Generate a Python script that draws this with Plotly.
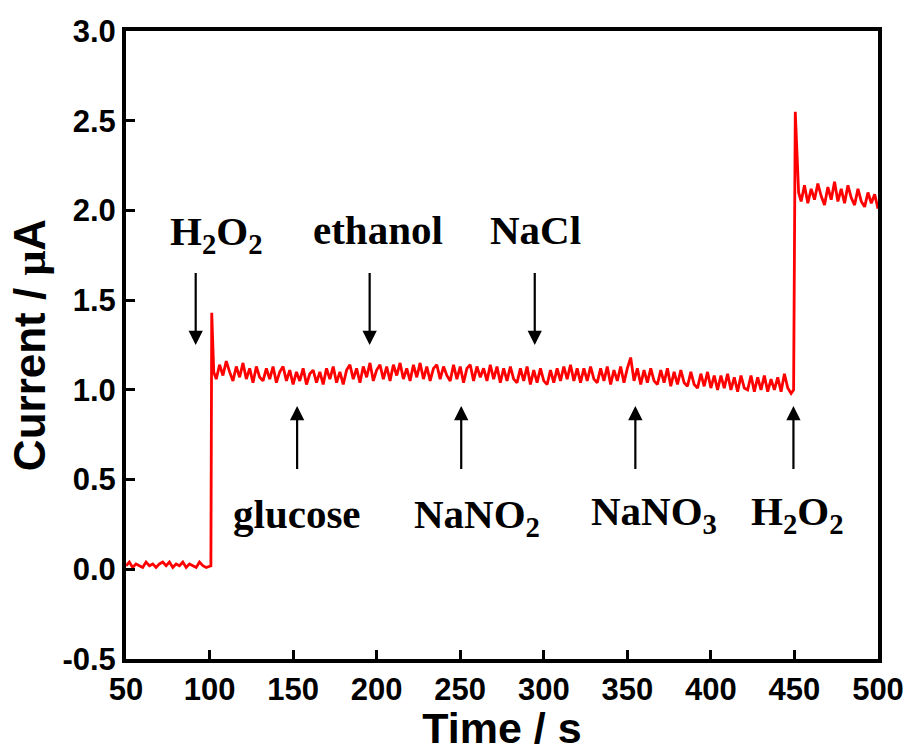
import plotly.graph_objects as go

# ---- data ----
t_base = list(range(50, 101, 2))
i_base = [0.02,0.04,0.01,0.03,0.02,0.01,0.04,0.02,0.03,0.01,0.03,0.04,0.02,0.04,0.01,0.03,0.02,0.04,0.01,0.03,0.02,0.01,0.04,0.02,0.01,0.02]

t_step1 = [100.8, 101.3, 102.5]
i_step1 = [0.02, 1.43, 1.10]

t_mid = list(range(104, 449, 2))
i_mid = [
    1.06,1.14,1.08,1.16,1.10,1.05,1.13,1.07,1.15,1.06,
    1.12,1.04,1.13,1.07,1.05,1.12,1.06,1.13,1.04,1.10,
    1.13,1.05,1.11,1.03,1.10,1.05,1.12,1.03,1.09,1.11,
    1.04,1.10,1.03,1.12,1.06,1.13,1.04,1.10,1.03,1.11,
    1.14,1.06,1.12,1.04,1.13,1.07,1.15,1.05,1.11,1.14,
    1.06,1.13,1.05,1.14,1.08,1.15,1.06,1.12,1.05,1.14,
    1.07,1.15,1.06,1.13,1.05,1.12,1.14,1.06,1.13,1.08,
    1.05,1.14,1.06,1.13,1.04,1.12,1.14,1.05,1.13,1.07,
    1.12,1.05,1.14,1.06,1.13,1.04,1.12,1.05,1.13,1.06,
    1.04,1.12,1.05,1.13,1.03,1.11,1.04,1.12,1.05,1.03,
    1.11,1.04,1.12,1.05,1.13,1.06,1.14,1.05,1.12,1.04,
    1.12,1.05,1.13,1.06,1.04,1.12,1.05,1.13,1.03,1.11,
    1.05,1.13,1.04,1.12,1.18,1.05,1.12,1.03,1.11,1.04,
    1.12,1.05,1.03,1.11,1.04,1.12,1.02,1.10,1.03,1.11,
    1.04,1.02,1.10,1.03,1.01,1.09,1.02,1.10,1.01,1.08,
    1.00,1.08,1.01,1.09,1.00,1.07,0.99,1.08,1.01,1.00,
    1.08,0.99,1.07,1.00,1.08,0.99,1.06,1.00,1.07,0.99,
    1.09,1.01,0.98,
]

t_step2 = [449.5, 450.5, 451.5, 452.5]
i_step2 = [1.00, 2.55, 2.35, 2.10]

t_end = list(range(454, 501, 2))
i_end = [2.05,2.14,2.04,2.12,2.06,2.15,2.08,2.03,2.13,2.06,2.16,2.05,
         2.12,2.04,2.14,2.07,2.03,2.12,2.05,2.02,2.10,2.04,2.09,2.01]

time = t_base + t_step1 + t_mid + t_step2 + t_end
current = i_base + i_step1 + i_mid + i_step2 + i_end

x_ticks = [50, 100, 150, 200, 250, 300, 350, 400, 450, 500]
y_ticks = [-0.5, 0.0, 0.5, 1.0, 1.5, 2.0, 2.5, 3.0]
y_tick_labels = ["-0.5", "0.0", "0.5", "1.0", "1.5", "2.0", "2.5", "3.0"]

# annotation labels and arrow positions
down_labels = ["H<sub>2</sub>O<sub>2</sub>", "ethanol", "NaCl"]
down_x = [91.7, 195.8, 294.6]
down_label_x = [104, 201, 295]
down_label_y = [1.87, 1.89, 1.89]

up_labels = ["glucose", "NaNO<sub>2</sub>", "NaNO<sub>3</sub>", "H<sub>2</sub>O<sub>2</sub>"]
up_x = [152.4, 250.6, 354.8, 449.4]
up_label_x = [152.4, 260, 366, 452]
up_label_y = [0.31, 0.29, 0.31, 0.31]

fig = go.Figure()
fig.add_trace(go.Scatter(x=time, y=current, mode="lines",
                         line=dict(color="#ff0000", width=2.8), showlegend=False))

ann = []
for x in down_x:
    ann.append(dict(x=x, y=1.25, ax=x, ay=1.66, xref="x", yref="y", axref="x", ayref="y",
                    text="", showarrow=True, arrowhead=2, arrowsize=1.3, arrowwidth=2.2,
                    arrowcolor="black"))
for x in up_x:
    ann.append(dict(x=x, y=0.91, ax=x, ay=0.55, xref="x", yref="y", axref="x", ayref="y",
                    text="", showarrow=True, arrowhead=2, arrowsize=1.3, arrowwidth=2.2,
                    arrowcolor="black"))
for lab, x, y in zip(down_labels + up_labels, down_label_x + up_label_x, down_label_y + up_label_y):
    ann.append(dict(x=x, y=y, xref="x", yref="y", text="<b>" + lab + "</b>", showarrow=False,
                    font=dict(family="Liberation Serif", size=41, color="black")))

fig.update_layout(
    width=916, height=752,
    margin=dict(l=126, r=34, t=31, b=92),
    paper_bgcolor="white", plot_bgcolor="white",
    annotations=ann,
    font=dict(family="Liberation Sans", color="black"),
)
fig.update_xaxes(range=[50, 500], tickvals=x_ticks,
                 ticks="inside", ticklen=9, tickwidth=3, tickcolor="black",
                 showline=True, linewidth=4, linecolor="black", mirror=True,
                 showgrid=False, zeroline=False,
                 tickfont=dict(family="Liberation Sans", size=31, color="black", weight="bold"),
                 title=dict(text="<b>Time / s</b>", font=dict(family="Liberation Sans", size=43), standoff=3))
fig.update_yaxes(range=[-0.5, 3.0], tickvals=y_ticks, ticktext=y_tick_labels,
                 ticks="inside", ticklen=9, tickwidth=3, tickcolor="black",
                 showline=True, linewidth=4, linecolor="black", mirror=True,
                 showgrid=False, zeroline=False,
                 tickfont=dict(family="Liberation Sans", size=31, color="black", weight="bold"),
                 title=dict(text="<b>Current / <span style='font-family:Liberation Serif'>μ</span>A</b>",
                            font=dict(family="Liberation Sans", size=44), standoff=4))

fig.write_html("out.html")
